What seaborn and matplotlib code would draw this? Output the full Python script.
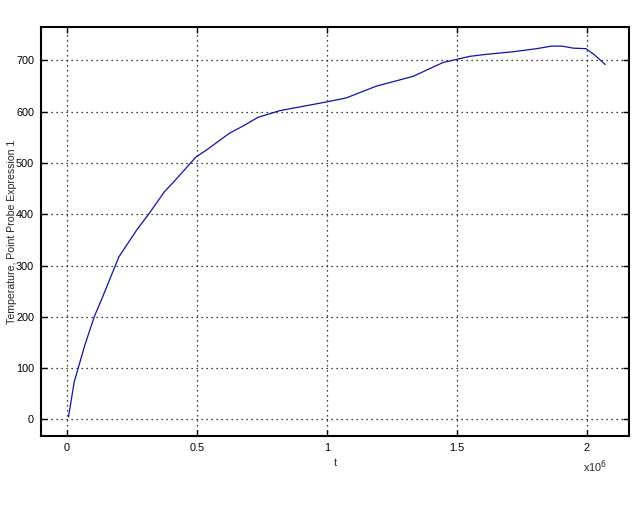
import matplotlib
matplotlib.use("Agg")
import matplotlib.pyplot as plt
import seaborn as sns
import numpy as np
import pandas as pd

# Data (t in units of 1e6)
t_scaled = [0.006, 0.028, 0.045, 0.069, 0.105, 0.135, 0.163, 0.200, 0.268, 0.317,
            0.375, 0.407, 0.497, 0.536, 0.625, 0.677, 0.735, 0.767, 0.818, 0.998,
            1.075, 1.191, 1.332, 1.447, 1.499, 1.550, 1.615, 1.717, 1.807, 1.865,
            1.904, 1.948, 1.997, 2.032, 2.071]
temperature = [5, 73, 103, 145, 200, 236, 271, 317, 369, 402,
               444, 461, 512, 525, 558, 572, 589, 594, 602, 619,
               627, 650, 669, 696, 702, 708, 712, 717, 723, 728,
               728, 724, 723, 710, 692]
x_ticks = [0, 0.5, 1, 1.5, 2]
x_tick_labels = ["0", "0.5", "1", "1.5", "2"]
y_ticks = [0, 100, 200, 300, 400, 500, 600, 700]

df = pd.DataFrame({"t": np.array(t_scaled) * 1e6, "T": temperature})

sns.set_style("white")
plt.rcParams["font.family"] = ["Liberation Sans", "DejaVu Sans"]

fig = plt.figure(figsize=(6.4, 5.12), dpi=100)
ax = fig.add_axes([0.064, 0.148, 0.919, 0.799])

sns.lineplot(data=df, x="t", y="T", sort=False, ax=ax, color="#1010b0",
             linewidth=0.9, estimator=None)

ax.set_xlim(-0.1e6, 2.163e6)
ax.set_ylim(-33, 765)
ax.set_xticks([v * 1e6 for v in x_ticks])
ax.set_xticklabels(x_tick_labels)
ax.set_yticks(y_ticks)
ax.set_yticklabels([str(v) for v in y_ticks])

ax.grid(True, color="black", linestyle=(0, (1, 3)), linewidth=0.9)
for s in ax.spines.values():
    s.set_color("black")
    s.set_linewidth(1.5)
    s.set_visible(True)

ax.tick_params(axis="both", direction="in", length=4, width=1, colors="black",
               labelsize=7.8, top=True, right=True, bottom=True, left=True,
               pad=5)

ax.set_xlabel("t", fontsize=7.8)
ax.xaxis.set_label_coords((335 - 41) / 588, (436 - 463) / 409)
ax.xaxis.label.set_va("center")
ax.set_ylabel("Temperature, Point Probe Expression 1", fontsize=7.6)
ax.yaxis.set_label_coords((12 - 41) / 588, 0.5)
ax.yaxis.label.set_va("center")

fig.text(583 / 640, 1 - 467 / 512, r"x10$^6$", fontsize=7.8, ha="left", va="center")

fig.savefig("out.png", dpi=100, facecolor="white")
